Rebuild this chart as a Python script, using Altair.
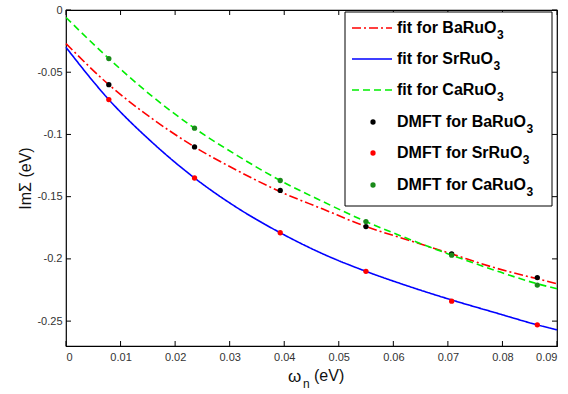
import altair as alt
import pandas as pd

# ---- data ----
omega_dmft = [0.00785, 0.02356, 0.03927, 0.05498, 0.07069, 0.08639]
dmft_ba = [-0.060, -0.110, -0.145, -0.174, -0.196, -0.215]
dmft_sr = [-0.072, -0.135, -0.179, -0.210, -0.234, -0.253]
dmft_ca = [-0.039, -0.095, -0.137, -0.170, -0.197, -0.221]

omega_fit = [0.0, 0.00785, 0.0157, 0.02356, 0.0314, 0.03927, 0.0471,
             0.05498, 0.0628, 0.07069, 0.0785, 0.08639, 0.09]
fit_ba = [-0.027, -0.060, -0.087, -0.110, -0.129, -0.146, -0.160,
          -0.174, -0.185, -0.196, -0.207, -0.216, -0.220]
fit_sr = [-0.030, -0.072, -0.106, -0.135, -0.159, -0.179, -0.196,
          -0.210, -0.222, -0.233, -0.243, -0.253, -0.257]
fit_ca = [-0.006, -0.039, -0.069, -0.095, -0.117, -0.137, -0.154,
          -0.170, -0.184, -0.197, -0.209, -0.220, -0.224]

x_ticks = [0, 0.01, 0.02, 0.03, 0.04, 0.05, 0.06, 0.07, 0.08, 0.09]
y_ticks = [0, -0.05, -0.1, -0.15, -0.2, -0.25]

compounds = ["BaRuO", "SrRuO", "CaRuO"]
fit_colors = ["#ff0000", "#0000ff", "#00ee00"]
dot_colors = ["#000000", "#ff0000", "#1a8a1a"]
fit_dash = [[9, 3, 2, 3], [1, 0], [7, 4]]

W, H = 491, 336
FONT = "Liberation Sans"

xs = alt.Scale(domain=[0, 0.09], nice=False, zero=False)
ys = alt.Scale(domain=[-0.27, 0], nice=False, zero=False)

x_axis = alt.Axis(
    values=x_ticks, title=None, ticks=False, domain=False, grid=False,
    labelFont=FONT, labelFontSize=11, labelColor="#333333", labelPadding=5,
    labelExpr="datum.value == 0 ? '0' : '' + datum.value")
y_axis = alt.Axis(
    values=y_ticks, ticks=False, domain=False, grid=False,
    labelFont=FONT, labelFontSize=11, labelColor="#333333", labelPadding=4,
    labelExpr="datum.value == 0 ? '0' : '' + datum.value",
    title="ImΣ (eV)", titleFont=FONT, titleFontSize=16, titleFontWeight="normal",
    titleColor="#111111", titleX=-41, titleY=168, titleBaseline="middle",
    titleAngle=-90)

def X(f):
    return alt.X(f, scale=xs, axis=x_axis)

def Y(f):
    return alt.Y(f, scale=ys, axis=y_axis)

fit_df = pd.DataFrame({
    "w": omega_fit * 3,
    "v": fit_ba + fit_sr + fit_ca,
    "c": sum([[c] * len(omega_fit) for c in compounds], []),
})
dmft_df = pd.DataFrame({
    "w": omega_dmft * 3,
    "v": dmft_ba + dmft_sr + dmft_ca,
    "c": sum([[c] * len(omega_dmft) for c in compounds], []),
})

layers = []

# fit lines
for comp, col, dash in zip(compounds, fit_colors, fit_dash):
    layers.append(
        alt.Chart(fit_df).transform_filter(alt.datum.c == comp)
        .mark_line(color=col, strokeWidth=1.6, strokeDash=dash, interpolate="monotone")
        .encode(x=X("w:Q"), y=Y("v:Q"))
    )

# DMFT points
for comp, col in zip(compounds, dot_colors):
    layers.append(
        alt.Chart(dmft_df).transform_filter(alt.datum.c == comp)
        .mark_circle(color=col, size=28, opacity=1)
        .encode(x=X("w:Q"), y=Y("v:Q"))
    )

# inward ticks on all four sides
xt = pd.DataFrame({"w": x_ticks})
yt = pd.DataFrame({"v": y_ticks})
TL = 5
layers.append(alt.Chart(xt).mark_rule(color="black").encode(
    x=X("w:Q"), y=alt.value(H), y2=alt.value(H - TL)))
layers.append(alt.Chart(xt).mark_rule(color="black").encode(
    x=X("w:Q"), y=alt.value(0), y2=alt.value(TL)))
layers.append(alt.Chart(yt).mark_rule(color="black").encode(
    y=Y("v:Q"), x=alt.value(0), x2=alt.value(TL)))
layers.append(alt.Chart(yt).mark_rule(color="black").encode(
    y=Y("v:Q"), x=alt.value(W), x2=alt.value(W - TL)))

one = pd.DataFrame({"k": [0]})

# x-axis title with subscript
layers.append(alt.Chart(one).mark_text(align="left", baseline="middle", font=FONT,
                                       fontSize=17, color="#111111").encode(
    x=alt.value(222), y=alt.value(367), text=alt.value("ω")))
layers.append(alt.Chart(one).mark_text(align="left", baseline="middle", font=FONT,
                                       fontSize=12, color="#111111").encode(
    x=alt.value(237), y=alt.value(374), text=alt.value("n")))
layers.append(alt.Chart(one).mark_text(align="left", baseline="middle", font=FONT,
                                       fontSize=16, color="#111111").encode(
    x=alt.value(248), y=alt.value(366), text=alt.value("(eV)")))

# legend box
LX0, LX1, LY0, LY1 = 279, 486, 2, 196
layers.append(alt.Chart(one).mark_rect(fill="white", stroke="black", strokeWidth=1).encode(
    x=alt.value(LX0), x2=alt.value(LX1), y=alt.value(LY0), y2=alt.value(LY1)))

# bold Arial widths (per 1000 em) for subscript placement
cw = {"f": 333, "i": 278, "t": 333, " ": 278, "o": 611, "r": 389, "B": 722, "a": 556,
      "R": 722, "u": 611, "O": 778, "S": 667, "C": 722, "D": 722, "M": 833, "F": 611,
      "T": 611}
LFS = 16
def tw(s):
    return sum(cw[ch] for ch in s) * LFS / 1000.0

row_y = [18, 49, 80, 112, 143, 175]
TX = 331
labels = [("fit for " + c) for c in compounds] + [("DMFT for " + c) for c in compounds]
for i, lab in enumerate(labels):
    yy = row_y[i]
    if i < 3:
        layers.append(alt.Chart(one).mark_rule(color=fit_colors[i], strokeWidth=1.6,
                                               strokeDash=fit_dash[i]).encode(
            x=alt.value(286), x2=alt.value(326), y=alt.value(yy), y2=alt.value(yy)))
    else:
        layers.append(alt.Chart(one).mark_circle(color=dot_colors[i - 3], size=28, opacity=1).encode(
            x=alt.value(307), y=alt.value(yy)))
    layers.append(alt.Chart(one).mark_text(align="left", baseline="middle", font=FONT,
                                           fontSize=LFS, fontWeight="bold", color="black").encode(
        x=alt.value(TX), y=alt.value(yy), text=alt.value(lab)))
    layers.append(alt.Chart(one).mark_text(align="left", baseline="middle", font=FONT,
                                           fontSize=12, fontWeight="bold", color="black").encode(
        x=alt.value(TX + tw(lab) + 0.5), y=alt.value(yy + 7), text=alt.value("3")))

chart = alt.layer(*layers).properties(
    width=W, height=H,
    autosize=alt.AutoSizeParams(type="none"),
    padding={"left": 66, "top": 10, "right": 11, "bottom": 48},
    background="white",
).configure_view(stroke="black", strokeWidth=1.2)

chart.save("out.html", embed_options={"renderer": "svg", "actions": False})
